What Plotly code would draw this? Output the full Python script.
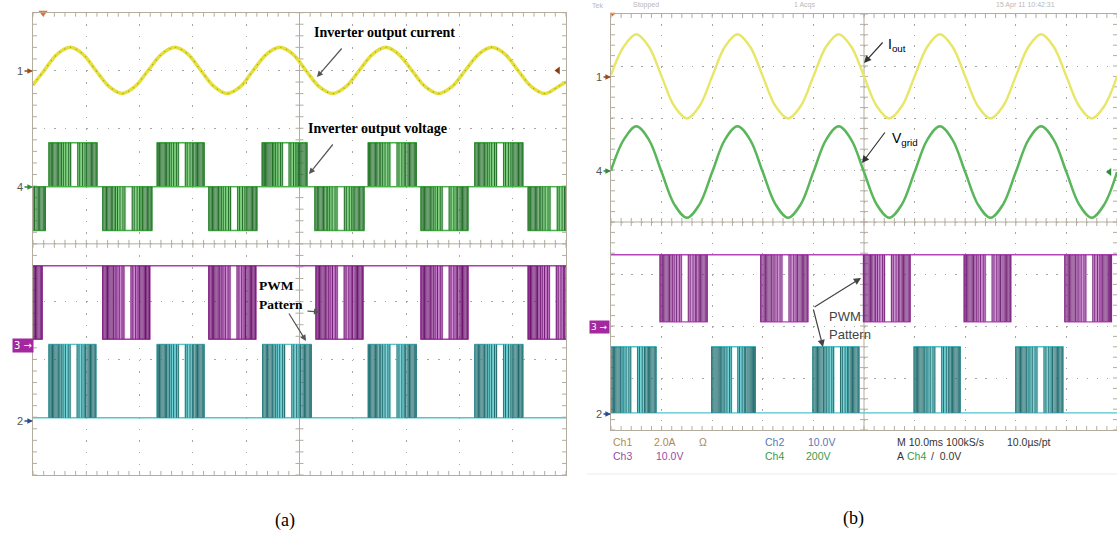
import numpy as np
import plotly.graph_objects as go

W, H = 1117, 533

# ======================= DATA (time in scope divisions 0-10, amplitude in divisions) =======================
# ---- panel (a) ----
a_ch1_t = [0.00, 0.21, 0.45, 0.70, 0.94, 1.18, 1.43, 1.67, 1.91, 2.16, 2.41, 2.66, 2.91, 3.15, 3.40, 3.64,
           3.89, 4.13, 4.38, 4.63, 4.88, 5.12, 5.37, 5.62, 5.87, 6.12, 6.37, 6.62, 6.86, 7.11, 7.36, 7.61,
           7.86, 8.11, 8.36, 8.61, 8.86, 9.10, 9.35, 9.60, 9.85, 10.00]
a_ch1_v = [-0.25, 0.00, 0.28, 0.40, 0.28, 0.00, -0.28, -0.40, -0.28, 0.00, 0.28, 0.40, 0.28, 0.00, -0.28, -0.40,
           -0.28, 0.00, 0.28, 0.40, 0.28, 0.00, -0.28, -0.40, -0.28, 0.00, 0.28, 0.40, 0.28, 0.00, -0.28, -0.40,
           -0.28, 0.00, 0.28, 0.40, 0.28, 0.00, -0.28, -0.40, -0.28, -0.20]

a_ch4_amp = 0.76
a_ch4_pos_start = [0.30, 2.33, 4.30, 6.29, 8.29]
a_ch4_pos_end = [1.20, 3.21, 5.14, 7.19, 9.19]
a_ch4_neg_start = [-0.69, 1.31, 3.30, 5.29, 7.28, 9.29]
a_ch4_neg_end = [0.23, 2.23, 4.20, 6.21, 8.16, 10.20]

a_ch3_amp = -1.27
a_ch3_start = [-0.71, 1.31, 3.30, 5.31, 7.28, 9.29]
a_ch3_end = [0.17, 2.19, 4.18, 6.19, 8.16, 10.17]

a_ch2_amp = 1.27
a_ch2_start = [0.30, 2.33, 4.31, 6.29, 8.29]
a_ch2_end = [1.18, 3.21, 5.22, 7.19, 9.19]

# ---- panel (b) ----
b_t = [0.00, 0.25, 0.50, 0.75, 1.00, 1.25, 1.50, 1.75, 2.00, 2.25, 2.50, 2.75, 3.00, 3.25, 3.50, 3.75,
       4.00, 4.25, 4.50, 4.75, 5.00, 5.25, 5.50, 5.75, 6.00, 6.25, 6.50, 6.75, 7.00, 7.25, 7.50, 7.75,
       8.00, 8.25, 8.50, 8.75, 9.00, 9.25, 9.50, 9.75, 10.00]
b_ch1_v = [0.03, 0.57, 0.81, 0.57, 0.00, -0.57, -0.81, -0.57, 0.00, 0.57, 0.81, 0.57, 0.00, -0.57, -0.81, -0.57,
           0.00, 0.57, 0.81, 0.57, 0.00, -0.57, -0.81, -0.57, 0.00, 0.57, 0.81, 0.57, 0.00, -0.57, -0.81, -0.57,
           0.00, 0.57, 0.81, 0.57, 0.00, -0.57, -0.81, -0.57, 0.00]
b_ch4_v = [0.03, 0.62, 0.88, 0.62, 0.00, -0.62, -0.88, -0.62, 0.00, 0.62, 0.88, 0.62, 0.00, -0.62, -0.88, -0.62,
           0.00, 0.62, 0.88, 0.62, 0.00, -0.62, -0.88, -0.62, 0.00, 0.62, 0.88, 0.62, 0.00, -0.62, -0.88, -0.62,
           0.00, 0.62, 0.88, 0.62, 0.00, -0.62, -0.88, -0.62, 0.00]

b_ch3_amp = -1.29
b_ch3_start = [0.97, 2.96, 4.99, 6.98, 8.97]
b_ch3_end = [1.90, 3.89, 5.91, 7.90, 9.89]

b_ch2_amp = 1.27
b_ch2_start = [-0.02, 1.99, 3.99, 5.99, 8.00]
b_ch2_end = [0.89, 2.85, 4.90, 6.90, 8.93]

# PWM burst texture inside one block (fractions of the block width)
pwm_edges = [0.00, 0.025, 0.05, 0.075, 0.10, 0.125, 0.15, 0.175, 0.20, 0.23, 0.26, 0.30, 0.35, 0.41, 0.45,
             0.60, 0.64, 0.70, 0.75, 0.78, 0.81, 0.835, 0.86, 0.885, 0.91, 0.935, 0.96, 0.98, 1.00]
pwm_soft = [0.27, 0.28, 0.32, 0.33, 0.37, 0.39, 0.43, 0.62, 0.66, 0.68, 0.72, 0.73, 0.77]
pwm_light = [[0.22, 0.47], [0.59, 0.79]]

# scope read-out text of panel (b)
b_info_text = ["Ch1", "2.0A", "Ω", "Ch2", "10.0V", "M 10.0ms 100kS/s", "10.0µs/pt",
               "Ch3", "10.0V", "Ch4", "200V", "A", "Ch4", "/  0.0V"]
b_info_color = ["#b08a52", "#b08a52", "#b08a52", "#5a78b4", "#5a78b4", "#333333", "#333333",
                "#9a4aa6", "#9a4aa6", "#3a9a48", "#3a9a48", "#333333", "#3a9a48", "#333333"]
b_header_text = ["Tek", "Stopped", "1 Acqs", "15 Apr 11 10:42:31"]

# ======================= LAYOUT HELPERS =======================
def px(x):
    return x / W


def py(y):
    return 1 - y / H


# channel rest levels (screen positions in divisions)
A_CH1, A_CH4, A_CH3, A_CH2 = 7.00, 4.99, 3.62, 0.99
B_CH1, B_CH4, B_CH3, B_CH2 = 6.80, 4.96, 3.37, 0.33

fig = go.Figure()


def graticule(xa, ya, tlx, tly):
    xs, ys = [], []
    for t in np.linspace(0, 10, 51):
        xs += [t, t, None, t, t, None, t, t, None]
        ys += [8, 8 - tly, None, 0, tly, None, 4 - tly, 4 + tly, None]
    for v in np.linspace(0, 8, 41):
        xs += [0, tlx, None, 10 - tlx, 10, None, 5 - tlx, 5 + tlx, None]
        ys += [v, v, None, v, v, None, v, v, None]
    xs += [0, 10, None, 5, 5, None]
    ys += [4, 4, None, 0, 8, None]
    fig.add_trace(go.Scatter(x=xs, y=ys, mode="lines", line=dict(color="#b3ad9f", width=1),
                             xaxis=xa, yaxis=ya, hoverinfo="skip"))


def vlines(starts, ends, fracs, rest, act):
    xs, ys = [], []
    for s, e in zip(starts, ends):
        w = e - s
        for f in fracs:
            x = s + f * w
            xs += [x, x, None]
            ys += [rest, act, None]
    return xs, ys


def add_pwm(starts, ends, rest, amp, xa, ya, c_env, c_dark, c_soft, c_light):
    act = rest + amp
    lx, ly = [], []
    for s, e in zip(starts, ends):
        w = e - s
        for f0, f1 in pwm_light:
            x0, x1 = s + f0 * w, s + f1 * w
            lx += [x0, x1, x1, x0, x0, None]
            ly += [rest, rest, act, act, rest, None]
    fig.add_trace(go.Scatter(x=lx, y=ly, mode="lines", fill="toself", fillcolor=c_light,
                             line=dict(width=0.5, color=c_light), xaxis=xa, yaxis=ya, hoverinfo="skip"))
    sx, sy = vlines(starts, ends, pwm_soft, rest, act)
    fig.add_trace(go.Scatter(x=sx, y=sy, mode="lines", line=dict(color=c_soft, width=1),
                             xaxis=xa, yaxis=ya, hoverinfo="skip"))
    ex, ey = [-1, 11, None], [rest, rest, None]
    for s, e in zip(starts, ends):
        ex += [s, s, e, e, None]
        ey += [rest, act, act, rest, None]
    fig.add_trace(go.Scatter(x=ex, y=ey, mode="lines", line=dict(color=c_env, width=1.4),
                             xaxis=xa, yaxis=ya, hoverinfo="skip"))
    dx, dy = vlines(starts, ends, pwm_edges, rest, act)
    fig.add_trace(go.Scatter(x=dx, y=dy, mode="lines", line=dict(color=c_dark, width=1),
                             xaxis=xa, yaxis=ya, hoverinfo="skip"))


# ---------------- panel (a) ----------------
graticule("x", "y", 4 / 53.3, 4 / 57.8)
G = ("#47b347", "#236f29", "#7fcf7f", "rgba(165,222,165,0.85)")
add_pwm(a_ch4_pos_start, a_ch4_pos_end, A_CH4, a_ch4_amp, "x", "y", *G)
add_pwm(a_ch4_neg_start, a_ch4_neg_end, A_CH4, -a_ch4_amp, "x", "y", *G)
add_pwm(a_ch3_start, a_ch3_end, A_CH3, a_ch3_amp, "x", "y", "#b03ab2", "#6e1470", "#c77fcc", "rgba(226,185,230,0.85)")
add_pwm(a_ch2_start, a_ch2_end, A_CH2, a_ch2_amp, "x", "y", "#55c6ca", "#1f6b6e", "#6fcfd3", "rgba(170,230,232,0.85)")
fig.add_trace(go.Scatter(x=a_ch1_t, y=[A_CH1 + v for v in a_ch1_v], mode="lines",
                         line=dict(color="#e4df3a", width=3.5, shape="spline"), xaxis="x", yaxis="y", hoverinfo="skip"))
fig.add_trace(go.Scatter(x=a_ch1_t, y=[A_CH1 + v for v in a_ch1_v], mode="lines",
                         line=dict(color="rgba(110,100,30,0.55)", width=1.2, shape="spline", dash="1px,5px"),
                         xaxis="x", yaxis="y", hoverinfo="skip"))

# ---------------- panel (b) ----------------
graticule("x2", "y2", 4 / 50.6, 4 / 52.0)
add_pwm(b_ch3_start, b_ch3_end, B_CH3, b_ch3_amp, "x2", "y2", "#b646b8", "#7a2a7e", "#c88acd", "rgba(228,190,232,0.85)")
add_pwm(b_ch2_start, b_ch2_end, B_CH2, b_ch2_amp, "x2", "y2", "#4ec4ca", "#246f72", "#6fcfd3", "rgba(170,230,232,0.85)")
fig.add_trace(go.Scatter(x=b_t, y=[B_CH1 + v for v in b_ch1_v], mode="lines",
                         line=dict(color="#e8e666", width=2.4, shape="spline"), xaxis="x2", yaxis="y2", hoverinfo="skip"))
fig.add_trace(go.Scatter(x=b_t, y=[B_CH4 + v for v in b_ch4_v], mode="lines",
                         line=dict(color="#5ab65a", width=2.5, shape="spline"), xaxis="x2", yaxis="y2", hoverinfo="skip"))

# channel markers inside the graticules
fig.add_trace(go.Scatter(x=[9.85], y=[A_CH1], mode="markers", marker=dict(symbol="triangle-left", size=7, color="#8a3c10"),
                         xaxis="x", yaxis="y", hoverinfo="skip", cliponaxis=False))
fig.add_trace(go.Scatter(x=[0.19], y=[8.0], mode="markers", marker=dict(symbol="triangle-down", size=8, color="#e8702a"),
                         xaxis="x", yaxis="y", hoverinfo="skip", cliponaxis=False))
fig.add_trace(go.Scatter(x=[9.85], y=[B_CH4], mode="markers", marker=dict(symbol="triangle-left", size=7, color="#2e8b3a"),
                         xaxis="x2", yaxis="y2", hoverinfo="skip", cliponaxis=False))
fig.add_trace(go.Scatter(x=[0.03], y=[8.0], mode="markers", marker=dict(symbol="triangle-down", size=5, color="#e8702a"),
                         xaxis="x2", yaxis="y2", hoverinfo="skip", cliponaxis=False))

ann = []


def arrow(hx, hy, tx, ty, color="#555555", size=1.0, width=1.2, head=2):
    ann.append(dict(xref="paper", yref="paper", x=px(hx), y=py(hy), ax=tx - hx, ay=ty - hy, text="",
                    showarrow=True, arrowhead=head, arrowsize=size, arrowwidth=width, arrowcolor=color,
                    standoff=0, startstandoff=0))


def label(text, x, y, size=12, color="black", family="Liberation Serif", xanchor="left", yanchor="middle", **kw):
    ann.append(dict(xref="paper", yref="paper", x=px(x), y=py(y), text=text, showarrow=False,
                    xanchor=xanchor, yanchor=yanchor, font=dict(size=size, color=color, family=family), **kw))


def chan_marker(text, tx, hx, y, color):
    ann.append(dict(xref="paper", yref="paper", x=px(hx), y=py(y), ax=tx - hx, ay=0, text=text,
                    showarrow=True, arrowhead=2, arrowsize=0.8, arrowwidth=1.4, arrowcolor=color,
                    standoff=0, font=dict(size=11, color="#555555", family="Liberation Sans")))


# panel (a) annotations
label("<b>Inverter output current</b>", 312, 32, size=14)
arrow(317, 77, 343, 47)
label("<b>Inverter output voltage</b>", 306, 129, size=14)
arrow(309, 174, 334, 143)
label("<b>PWM</b>", 257, 285, size=13.5)
label("<b>Pattern</b>", 257, 304, size=13.5)
arrow(320, 312, 306, 311)
arrow(306, 341, 288, 312)

chan_marker("1", 20, 33, 71, "#9c4a1a")
chan_marker("4", 20, 33, 187, "#2e8b3a")
chan_marker("2", 20, 33, 421, "#2a4a90")
label("3 →", 34, 345, size=10, color="white", family="DejaVu Sans", xanchor="right",
      bgcolor="#a3289f", borderpad=1)

# panel (b) annotations
label("I<sub>out</sub>", 886, 45, size=14, family="Liberation Sans")
arrow(864, 63, 884, 41, color="#333333", size=1.2)
label("V<sub>grid</sub>", 890, 139, size=14, family="Liberation Sans")
arrow(862, 163, 886, 131, color="#333333", size=1.2)
label("PWM", 827, 316, size=13, color="#444444", family="Liberation Sans")
label("Pattern", 827, 334, size=13, color="#444444", family="Liberation Sans")
arrow(861, 278, 813, 308, color="#444444", size=1.2)
arrow(823, 347, 813, 308, color="#444444", size=1.2)

chan_marker("1", 599, 611, 77, "#9c4a1a")
chan_marker("4", 599, 611, 171, "#2e8b3a")
chan_marker("2", 599, 611, 414, "#2a4a90")
label("3 →", 610, 327, size=9, color="white", family="DejaVu Sans", xanchor="right",
      bgcolor="#a3289f", borderpad=1)

# scope readout (b)
info_x = [611, 652, 697, 763, 806, 895, 1005, 611, 654, 763, 804, 895, 905, 929]
info_y = [442, 442, 442, 442, 442, 442, 442, 456, 456, 456, 456, 456, 456, 456]
for t, c, x, y in zip(b_info_text, b_info_color, info_x, info_y):
    label(t, x, y, size=10.5, color=c, family="Liberation Sans")

for t, x in zip(b_header_text, [590, 631, 792, 994]):
    label(t, x, 5, size=7, color="#b8b8b8", family="Liberation Sans")

# captions
label("(a)", 285, 520, size=18, xanchor="center")
label("(b)", 853, 518, size=18, xanchor="center")


def axis(domain, rng, dash):
    return dict(domain=domain, range=rng, showgrid=True, dtick=1, tick0=0, gridcolor="#a6a6a6",
                gridwidth=1, griddash=dash, showline=True, mirror=True, linecolor="#b3ad9f", linewidth=1,
                ticks="", showticklabels=False, zeroline=False, fixedrange=True)


fig.update_layout(
    width=W, height=H, margin=dict(l=0, r=0, t=0, b=0),
    paper_bgcolor="white", plot_bgcolor="white", showlegend=False,
    xaxis=dict(axis([px(33), px(566)], [0, 10], "1.5px,10.06px"), anchor="y"),
    yaxis=dict(axis([py(475), py(12.7)], [0, 8], "1.5px,9.16px"), anchor="x"),
    xaxis2=dict(axis([px(611), 1.0], [0, 10], "1.5px,8.9px"), anchor="y2"),
    yaxis2=dict(axis([py(430), py(14)], [0, 8], "1.5px,8.62px"), anchor="x2"),
    annotations=ann,
    shapes=[dict(type="line", xref="paper", yref="paper", x0=px(587), x1=1.0, y0=py(474), y1=py(474),
                 line=dict(color="#ececec", width=1))],
)

fig.write_html("out.html", config={"displayModeBar": False},
               post_script="document.body.style.margin='0px';document.body.style.overflow='hidden';")
